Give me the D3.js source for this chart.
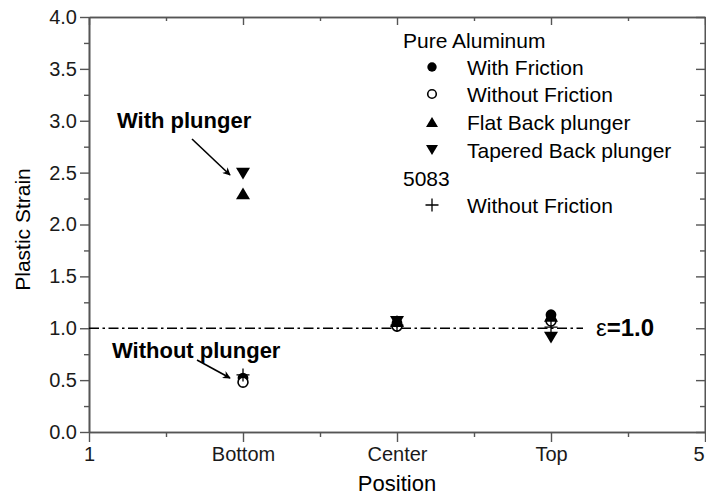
<!DOCTYPE html>
<html>
<head>
<meta charset="utf-8">
<script src="https://cdn.jsdelivr.net/npm/d3@7"></script>
<style>
  html, body { margin: 0; padding: 0; background: #fff; }
  svg { display: block; font-family: "Liberation Sans", Arial, sans-serif; }
</style>
</head>
<body>
<svg id="chart" width="706" height="497"></svg>
<script>
// ---- data ----
const positions = [2, 3, 4];
const xTickValues = [1, 2, 3, 4, 5];
const xTickLabels = ["1", "Bottom", "Center", "Top", "5"];
const yTickValues = [0, 0.5, 1.0, 1.5, 2.0, 2.5, 3.0, 3.5, 4.0];
const withFriction = [0.52, 1.05, 1.13];
const withoutFriction = [0.48, 1.02, 1.07];
const flatBack = [2.30, 1.07, 1.12];
const taperedBack = [2.49, 1.06, 0.91];
const alloy5083WithoutFriction = [0.55, 1.03, 1.01];
const referenceStrain = 1.0;

const seriesList = [
  { name: "With Friction", values: withFriction, shape: "circleFilled" },
  { name: "Without Friction", values: withoutFriction, shape: "circleOpen" },
  { name: "Flat Back plunger", values: flatBack, shape: "triUp" },
  { name: "Tapered Back plunger", values: taperedBack, shape: "triDown" },
  { name: "Without Friction", values: alloy5083WithoutFriction, shape: "plus" }
];

// ---- layout ----
const plot = { left: 89, right: 705, top: 17, bottom: 432 };
const svg = d3.select("#chart");
const x = d3.scaleLinear().domain([1, 5]).range([plot.left, plot.right]);
const y = d3.scaleLinear().domain([0, 4]).range([plot.bottom, plot.top]);
const axisColor = "#555";
const textColor = "#1a1a1a";

function symbolPath(shape, s) {
  switch (shape) {
    case "triUp": return `M0,${-s*0.85}L${s},${s*0.85}L${-s},${s*0.85}Z`;
    case "triDown": return `M0,${s*0.85}L${s},${-s*0.85}L${-s},${-s*0.85}Z`;
    case "plus": return `M${-s},0L${s},0M0,${-s}L0,${s}`;
  }
  return null;
}
function drawSymbol(g, shape, cx, cy, size) {
  if (shape === "circleFilled") {
    g.append("circle").attr("cx", cx).attr("cy", cy).attr("r", size * 0.72)
      .attr("fill", "#000");
  } else if (shape === "circleOpen") {
    g.append("circle").attr("cx", cx).attr("cy", cy).attr("r", size * 0.66)
      .attr("fill", "#fff").attr("stroke", "#000").attr("stroke-width", 1.6);
  } else if (shape === "plus") {
    g.append("path").attr("d", symbolPath(shape, size))
      .attr("transform", `translate(${cx},${cy})`)
      .attr("stroke", "#000").attr("stroke-width", 1.3).attr("fill", "none");
  } else {
    g.append("path").attr("d", symbolPath(shape, size))
      .attr("transform", `translate(${cx},${cy})`)
      .attr("fill", "#000");
  }
}

// ---- axes ----
const minorX = [1.5, 2.5, 3.5, 4.5];
const minorY = d3.range(0.25, 4, 0.5);

// bottom axis (ticks outward)
const bottomAxis = d3.axisBottom(x).tickValues(xTickValues)
  .tickFormat((d, i) => xTickLabels[i]).tickSizeInner(10).tickSizeOuter(0).tickPadding(5);
const gB = svg.append("g").attr("transform", `translate(0,${plot.bottom})`).call(bottomAxis);
const gBm = svg.append("g").attr("transform", `translate(0,${plot.bottom})`)
  .call(d3.axisBottom(x).tickValues(minorX).tickFormat("").tickSizeInner(5).tickSizeOuter(0));

// top axis (ticks inward)
const gT = svg.append("g").attr("transform", `translate(0,${plot.top})`)
  .call(d3.axisBottom(x).tickValues(xTickValues).tickFormat("").tickSizeInner(8).tickSizeOuter(0));
const gTm = svg.append("g").attr("transform", `translate(0,${plot.top})`)
  .call(d3.axisBottom(x).tickValues(minorX).tickFormat("").tickSizeInner(4).tickSizeOuter(0));

// left axis (ticks outward)
const gL = svg.append("g").attr("transform", `translate(${plot.left},0)`)
  .call(d3.axisLeft(y).tickValues(yTickValues).tickFormat(d3.format(".1f"))
    .tickSizeInner(9).tickSizeOuter(0).tickPadding(3));
const gLm = svg.append("g").attr("transform", `translate(${plot.left},0)`)
  .call(d3.axisLeft(y).tickValues(minorY).tickFormat("").tickSizeInner(5).tickSizeOuter(0));

// right axis (ticks inward)
const gR = svg.append("g").attr("transform", `translate(${plot.right},0)`)
  .call(d3.axisLeft(y).tickValues(yTickValues).tickFormat("").tickSizeInner(9).tickSizeOuter(0));
const gRm = svg.append("g").attr("transform", `translate(${plot.right},0)`)
  .call(d3.axisLeft(y).tickValues(minorY).tickFormat("").tickSizeInner(5).tickSizeOuter(0));

[gB, gBm, gT, gTm, gL, gLm, gR, gRm].forEach(g => {
  g.select(".domain").attr("stroke", axisColor).attr("stroke-width", 1.6);
  g.selectAll(".tick line").attr("stroke", axisColor).attr("stroke-width", 1.4);
  g.selectAll(".tick text").attr("fill", textColor)
    .attr("font-family", "Liberation Sans, Arial, sans-serif").attr("font-size", 20);
});
// keep the last x label inside the window
gB.selectAll(".tick text").filter(d => d === 5).attr("text-anchor", "end").attr("dx", -1);

// ---- reference line ----
svg.append("line")
  .attr("x1", x(1)).attr("x2", 583)
  .attr("y1", y(referenceStrain)).attr("y2", y(referenceStrain))
  .attr("stroke", "#000").attr("stroke-width", 1.6)
  .attr("stroke-dasharray", "10,3.5,2.5,3.5");
const eps = svg.append("text").attr("x", 596).attr("y", y(referenceStrain) + 8)
  .attr("font-size", 24).attr("fill", "#000");
eps.append("tspan").text("ε");
eps.append("tspan").attr("font-weight", "bold").text("=1.0");

// ---- data marks ----
const marks = svg.append("g");
seriesList.forEach(s => {
  s.values.forEach((v, i) => {
    drawSymbol(marks, s.shape, x(positions[i]), y(v), s.shape === "plus" ? 6.5 : (s.shape.startsWith("tri") ? 7 : 7.5));
  });
});

// ---- annotations ----
svg.append("defs").append("marker").attr("id", "arrow")
  .attr("viewBox", "0 0 10 10").attr("refX", 9).attr("refY", 5)
  .attr("markerWidth", 8).attr("markerHeight", 8).attr("orient", "auto")
  .attr("markerUnits", "userSpaceOnUse")
  .append("path").attr("d", "M0,0L10,5L0,10L3,5Z").attr("fill", "#000");

svg.append("text").attr("x", 117).attr("y", 128).attr("font-size", 22)
  .attr("font-weight", "bold").attr("fill", "#000").text("With plunger");
svg.append("line").attr("x1", 192).attr("y1", 139).attr("x2", 230).attr("y2", 175)
  .attr("stroke", "#000").attr("stroke-width", 1.6).attr("marker-end", "url(#arrow)");

svg.append("text").attr("x", 112).attr("y", 358).attr("font-size", 22)
  .attr("font-weight", "bold").attr("fill", "#000").text("Without plunger");
svg.append("line").attr("x1", 197).attr("y1", 360).attr("x2", 230).attr("y2", 378)
  .attr("stroke", "#000").attr("stroke-width", 1.6).attr("marker-end", "url(#arrow)");

// ---- axis titles ----
svg.append("text").attr("x", x(3)).attr("y", 491).attr("text-anchor", "middle")
  .attr("font-size", 22).attr("fill", "#000").text("Position");
svg.append("text").attr("transform", `translate(30,${(plot.top + plot.bottom) / 2 + 5}) rotate(-90)`)
  .attr("text-anchor", "middle").attr("font-size", 21).attr("fill", "#000").text("Plastic Strain");

// ---- legend ----
const legend = svg.append("g").attr("font-size", 21).attr("fill", "#000");
legend.append("text").attr("x", 403).attr("y", 48).text("Pure Aluminum");
const legendRows = [
  { label: "With Friction", shape: "circleFilled", y: 67 },
  { label: "Without Friction", shape: "circleOpen", y: 94 },
  { label: "Flat Back plunger", shape: "triUp", y: 122 },
  { label: "Tapered Back plunger", shape: "triDown", y: 150 },
  { label: "Without Friction", shape: "plus", y: 205 }
];
legendRows.forEach(r => {
  drawSymbol(legend, r.shape, 432, r.y, r.shape === "plus" ? 6.5 : (r.shape.startsWith("tri") ? 6 : 6.5));
  legend.append("text").attr("x", 467).attr("y", r.y + 7.5).text(r.label);
});
legend.append("text").attr("x", 403).attr("y", 185.5).text("5083");
</script>
</body>
</html>
